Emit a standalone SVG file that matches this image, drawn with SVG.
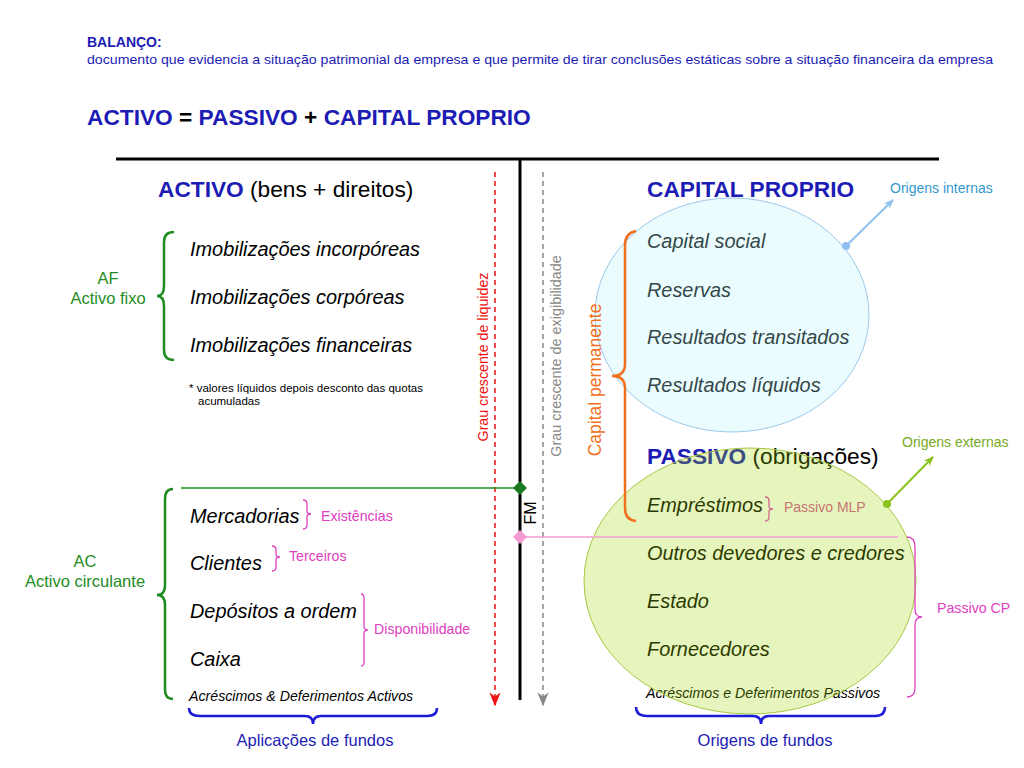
<svg xmlns="http://www.w3.org/2000/svg" width="1024" height="768" viewBox="0 0 1024 768">
<defs>
<style>
text{font-family:"Liberation Sans",Arial,sans-serif;}
.blue{fill:#1c1cb4;}
.b{font-weight:bold;}
.it{font-style:italic;font-size:19.9px;fill:#000;}
.sm{font-style:italic;font-size:14.2px;fill:#000;}
.grn{fill:#1e8c1e;font-size:16.5px;}
.pk{fill:#e040c0;font-size:14.2px;}
.brg{fill:none;stroke:#1e8c1e;stroke-width:2.5;}
.brp{fill:none;stroke:#e040c0;stroke-width:1.3;}
.brb{fill:none;stroke:#1c1cd8;stroke-width:2.5;}
</style>
<marker id="arr" viewBox="0 0 10 10" refX="9" refY="5" markerWidth="14" markerHeight="14" orient="auto" markerUnits="userSpaceOnUse">
<path d="M0,1 L10,5 L0,9 L3,5 Z" fill="#ee1111"/>
</marker>
<marker id="arg" viewBox="0 0 10 10" refX="9" refY="5" markerWidth="14" markerHeight="14" orient="auto" markerUnits="userSpaceOnUse">
<path d="M0,1 L10,5 L0,9 L3,5 Z" fill="#888"/>
</marker>
<marker id="arbl" viewBox="0 0 10 10" refX="9" refY="5" markerWidth="10" markerHeight="10" orient="auto" markerUnits="userSpaceOnUse">
<path d="M0,1 L10,5 L0,9 L3,5 Z" fill="#8fc0ee"/>
</marker>
<marker id="argr" viewBox="0 0 10 10" refX="9" refY="5" markerWidth="10" markerHeight="10" orient="auto" markerUnits="userSpaceOnUse">
<path d="M0,1 L10,5 L0,9 L3,5 Z" fill="#8cc21e"/>
</marker>
</defs>
<rect width="1024" height="768" fill="#fff"/>

<g id="header">
<text x="87" y="47" class="blue b" font-size="14">BALANÇO:</text>
<text x="87" y="64" class="blue" font-size="13.5" textLength="906" lengthAdjust="spacingAndGlyphs">documento que evidencia a situação patrimonial da empresa e que permite de tirar conclusões estáticas sobre a situação financeira da empresa</text>
<text x="87" y="125" font-size="22.7" class="b"><tspan class="blue">ACTIVO</tspan> = <tspan class="blue">PASSIVO</tspan> + <tspan class="blue">CAPITAL PROPRIO</tspan></text>
</g>

<g id="axes">
<line x1="116" y1="159" x2="939" y2="159" stroke="#000" stroke-width="3"/>
<line x1="520" y1="159" x2="520" y2="700" stroke="#000" stroke-width="3"/>
</g>

<g id="activo">
<text x="158" y="197" font-size="22.7"><tspan class="blue b">ACTIVO</tspan> (bens + direitos)</text>
</g>

<g id="af">
<text x="108" y="284" class="grn" text-anchor="middle">AF</text>
<text x="108" y="304" class="grn" text-anchor="middle">Activo fixo</text>
<path class="brg" d="M174,232 Q164,232 164,242 L164,286 Q164,296 157,296 Q164,296 164,306 L164,350 Q164,360 174,360"/>
<text x="190" y="256" class="it">Imobilizações incorpóreas</text>
<text x="190" y="304" class="it">Imobilizações corpóreas</text>
<text x="190" y="352" class="it">Imobilizações financeiras</text>
<text x="189" y="392" font-size="11.5">* valores líquidos depois desconto das quotas</text>
<text x="198" y="405" font-size="11.5">acumuladas</text>
</g>

<g id="ac">
<text x="85" y="567" class="grn" text-anchor="middle">AC</text>
<text x="85" y="587" class="grn" text-anchor="middle">Activo circulante</text>
<path class="brg" d="M173,489 Q165,489 165,499 L165,585 Q165,595 157,595 Q165,595 165,605 L165,690 Q165,699 173,699"/>
<text x="190" y="523" class="it">Mercadorias</text>
<text x="190" y="570" class="it">Clientes</text>
<text x="190" y="618" class="it">Depósitos a ordem</text>
<text x="190" y="666" class="it">Caixa</text>
<text x="189" y="701" class="sm">Acréscimos &amp; Deferimentos Activos</text>
<path class="brp" d="M303,500 Q307,500 307,504 L307,511 Q307,514 311,514 Q307,514 307,517 L307,525 Q307,529 303,529"/>
<text x="321" y="521" class="pk">Existências</text>
<path class="brp" d="M272,546 Q276,546 276,550 L276,554 Q276,557 280,557 Q276,557 276,560 L276,567 Q276,571 272,571"/>
<text x="289" y="561" class="pk">Terceiros</text>
<path class="brp" d="M361,594 Q364,594 364,598 L364,626 Q364,630 368,630 Q364,630 364,634 L364,662 Q364,666 361,666"/>
<text x="374" y="634" class="pk">Disponibilidade</text>
<path class="brb" d="M189,708 Q189,716 200,716 L305,716 Q313,716 313,724 Q313,716 321,716 L427,716 Q437,716 437,708"/>
<text x="315" y="746" class="blue" font-size="16.5" text-anchor="middle">Aplicações de fundos</text>
</g>

<g id="capital-proprio">
<text x="647" y="197" font-size="22.7" class="blue b">CAPITAL PROPRIO</text>
<text x="647" y="248" class="it">Capital social</text>
<text x="647" y="297" class="it">Reservas</text>
<text x="647" y="344" class="it">Resultados transitados</text>
<text x="647" y="392" class="it">Resultados líquidos</text>
<ellipse cx="732" cy="315" rx="137" ry="117" fill="#b2f4f8" fill-opacity="0.28" stroke="#9cc8ec" stroke-width="1"/>
<text x="890" y="193" font-size="14" fill="#3399cc">Origens internas</text>
</g>

<g id="passivo">
<text x="647" y="464" font-size="22.7"><tspan class="blue b">PASSIVO</tspan> (obrigações)</text>
<text x="647" y="512" class="it">Empréstimos</text>
<path class="brp" d="M765,497 Q769,497 769,501 L769,506 Q769,509 773,509 Q769,509 769,512 L769,517 Q769,521 765,521"/>
<text x="784" y="512" font-size="14" fill="#d64f9a">Passivo MLP</text>
<text x="647" y="560" class="it">Outros devedores e credores</text>
<text x="647" y="608" class="it">Estado</text>
<text x="647" y="656" class="it">Fornecedores</text>
<text x="646" y="698" class="sm">Acréscimos e Deferimentos Passivos</text>
<ellipse cx="750" cy="581" rx="166" ry="133" fill="#9dd800" fill-opacity="0.26" stroke="#a8c840" stroke-width="1"/>
<text x="902" y="447" font-size="14" fill="#77aa22">Origens externas</text>
<path class="brp" d="M907,537 Q915,537 915,547 L915,609 Q915,617 922,617 Q915,617 915,625 L915,688 Q915,697 907,697"/>
<text x="937" y="613" class="pk" font-size="14">Passivo CP</text>
<path class="brb" d="M636,707 Q636,716 647,716 L753,716 Q761,716 761,724 Q761,716 769,716 L875,716 Q885,716 885,707"/>
<text x="765" y="746" class="blue" font-size="16.5" text-anchor="middle">Origens de fundos</text>
</g>

<g id="capital-permanente">
<path fill="none" stroke="#f07020" stroke-width="2.5" d="M636,231 Q625,233 625,245 L625,364 Q625,376 612,376 Q625,376 625,388 L625,508 Q625,520 636,521"/>
<text transform="translate(601,380) rotate(-90)" font-size="17.5" fill="#f07020" text-anchor="middle">Capital permanente</text>
</g>

<g id="connectors">
<line x1="495" y1="172" x2="495" y2="705" stroke="#ee1111" stroke-width="1.5" stroke-dasharray="5,4" marker-end="url(#arr)"/>
<text transform="translate(488,357) rotate(-90)" font-size="14.2" fill="#ee1111" text-anchor="middle">Grau crescente de liquidez</text>
<line x1="543" y1="172" x2="543" y2="705" stroke="#888" stroke-width="1.5" stroke-dasharray="5,4" marker-end="url(#arg)"/>
<text transform="translate(561,356) rotate(-90)" font-size="14.4" fill="#888" text-anchor="middle">Grau crescente de exigibilidade</text>
<line x1="181" y1="488" x2="520" y2="488" stroke="#1e8c1e" stroke-width="1.5"/>
<path d="M520,481 L527,488 L520,495 L513,488 Z" fill="#1e7a1e"/>
<line x1="520" y1="537" x2="898" y2="537" stroke="#f59ad0" stroke-width="1.3"/>
<path d="M520,530 L527,537 L520,544 L513,537 Z" fill="#f59ad0"/>
<text transform="translate(536,513) rotate(-90)" font-size="16" fill="#000" text-anchor="middle">FM</text>
<line x1="846" y1="246" x2="893" y2="200" stroke="#8fc0ee" stroke-width="2" marker-end="url(#arbl)"/>
<circle cx="846" cy="246" r="4" fill="#8fc0ee"/>
<line x1="887" y1="504" x2="933" y2="457" stroke="#8cc21e" stroke-width="2" marker-end="url(#argr)"/>
<circle cx="887" cy="504" r="4" fill="#8cc21e"/>
</g>
</svg>
